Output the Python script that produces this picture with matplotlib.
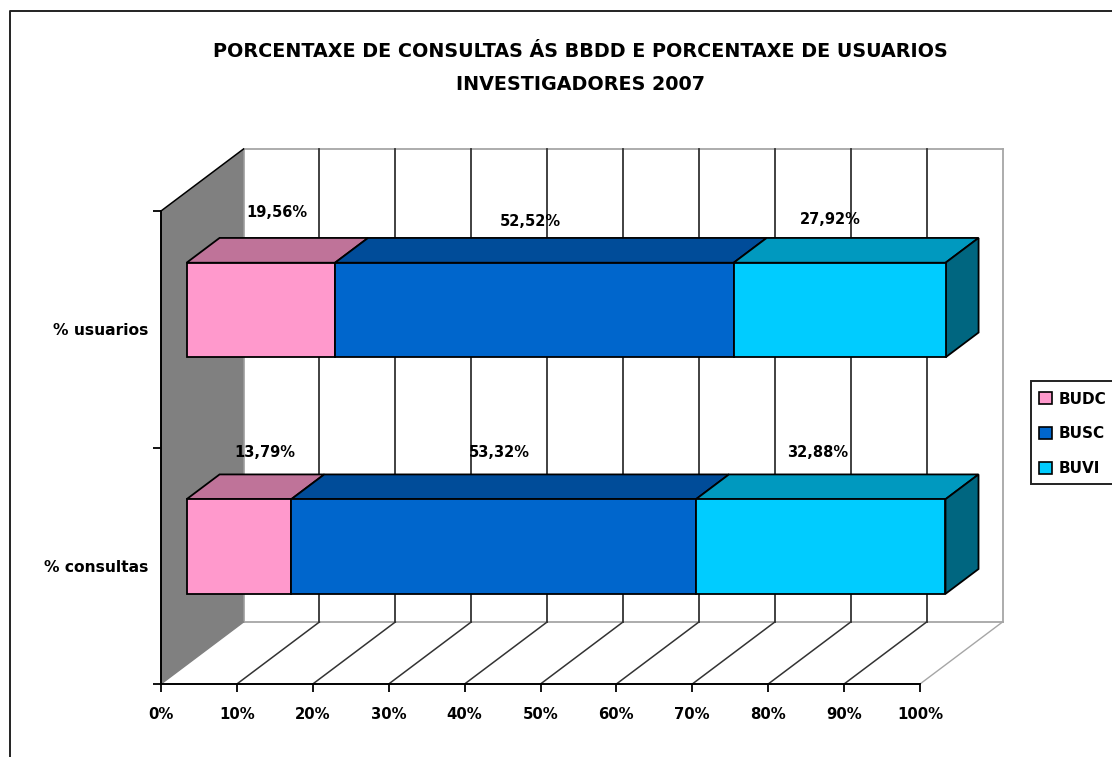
import matplotlib
matplotlib.use("Agg")
import matplotlib.pyplot as plt
from matplotlib.lines import Line2D
from matplotlib.patches import Polygon, Rectangle, Patch

title = "PORCENTAXE DE CONSULTAS ÁS BBDD E PORCENTAXE DE USUARIOS\nINVESTIGADORES 2007"
categories = ["% consultas", "% usuarios"]
series_names = ["BUDC", "BUSC", "BUVI"]
budc = [13.79, 19.56]
busc = [53.32, 52.52]
buvi = [32.88, 27.92]
xticks = [0, 10, 20, 30, 40, 50, 60, 70, 80, 90, 100]

front_colors = ["#FF99CC", "#0066CC", "#00CCFF"]
top_colors = ["#BF7399", "#004C99", "#0099BF"]
side_color = "#006680"
label_nudges = [[(26, 0), (6, 0), (-3, 0)], [(16, 0), (-4, 0), (-9, 0)]]
label_heights = [[212, 212, 212], [216, 207, 209]]

W, H = 1112, 757
fig = plt.figure(figsize=(W / 100, H / 100), dpi=100, facecolor="white")
plt.rcParams["font.family"] = "DejaVu Sans"
L, R, T, B = 161.0, 920.0, 211, 684
ax = fig.add_axes([L / W, 1 - B / H, (R - L) / W, (B - T) / H])
ax.set_xlim(0, 100)
ax.set_ylim(0, 2)
ax.patch.set_visible(False)
DX = 82.5 / ((R - L) / 100)
DY = 62 / ((B - T) / 2)


def P(x, y, d=0.0):
    return (x + DX * d, y + DY * d)


def poly(pts, fc, ec="black", lw=1.3, z=3):
    ax.add_patch(Polygon(pts, closed=True, facecolor=fc, edgecolor=ec, linewidth=lw,
                         joinstyle="miter", clip_on=False, zorder=z))


def line(a, b, c, lw=1.3, z=2):
    ax.add_line(Line2D([a[0], b[0]], [a[1], b[1]], color=c, linewidth=lw,
                       clip_on=False, zorder=z))


GREY = "#A6A6A6"
DARK = "#333333"
poly([P(0, 0), P(0, 0, 1), P(0, 2, 1), P(0, 2)], "#808080", ec="none", lw=0, z=2.5)
line(P(0, 2, 1), P(100, 2, 1), GREY)
line(P(100, 2, 1), P(100, 0, 1), GREY)
line(P(0, 0, 1), P(100, 0, 1), GREY)
line(P(100, 0), P(100, 0, 1), GREY, lw=1.0)
line(P(0, 0, 1), P(0, 2, 1), GREY)
for v in xticks[1:-1]:
    line(P(v, 0), P(v, 0, 1), DARK, lw=1.1)
    line(P(v, 0, 1), P(v, 2, 1), DARK)
line(P(0, 0), P(0, 0, 1), "#808080", lw=1.0, z=2.6)
line(P(0, 2), P(0, 2, 1), "black", lw=1.1, z=2.6)

BAR_H = 0.4
D0, D1 = 0.31, 0.71
rows = [budc, busc, buvi]
for row in (1, 0):
    yc = row + 0.5
    y0, y1 = yc - BAR_H / 2, yc + BAR_H / 2
    left = 0.0
    for s in range(3):
        v = rows[s][row]
        right = left + v
        poly([P(left, y1, D0), P(right, y1, D0), P(right, y1, D1), P(left, y1, D1)], top_colors[s])
        poly([P(left, y0, D0), P(right, y0, D0), P(right, y1, D0), P(left, y1, D0)], front_colors[s], z=3.2)
        if s == 2:
            poly([P(right, y0, D0), P(right, y0, D1), P(right, y1, D1), P(right, y1, D0)], side_color)
        mx, my = P(left + v / 2, row, D0)
        ax.annotate(f"{v:.2f}%".replace(".", ","),
                    xy=(mx, my), xycoords="data",
                    xytext=(label_nudges[row][s][0] * 0.72, label_heights[row][s] * 0.72),
                    textcoords="offset points", ha="center", va="center",
                    fontsize=10.5, fontweight="bold", color="black", zorder=5,
                    annotation_clip=False)
        left = right

for s in ("top", "right"):
    ax.spines[s].set_visible(False)
for s in ("left", "bottom"):
    ax.spines[s].set_linewidth(1.4)
    ax.spines[s].set_zorder(4)
ax.set_xticks(xticks)
ax.set_xticklabels([f"{v}%" for v in xticks], fontsize=10.7, fontweight="bold")
ax.tick_params(axis="x", length=6, width=1.3, pad=10.9)
ax.set_yticks([0, 1, 2])
ax.set_yticklabels([])
ax.set_yticks([0.5, 1.5], minor=True)
ax.set_yticklabels(categories, minor=True, fontsize=11.2, fontweight="bold")
ax.tick_params(axis="y", which="major", length=6, width=1.3)
ax.tick_params(axis="y", which="minor", length=0, pad=8.8)

fig.text(580 / W, 1 - 68 / H, title, ha="center", va="center", fontsize=13.75,
         fontweight="bold", linespacing=1.93)

fig.add_artist(Line2D([10 / W, 10 / W, 1], [0, 1 - 11 / H, 1 - 11 / H],
                      color="#222222", linewidth=1.4, transform=fig.transFigure))

fig.add_artist(Rectangle((1031 / W, 1 - 484 / H), 100 / W, 103 / H, facecolor="white",
                         edgecolor="#222222", linewidth=1.4, transform=fig.transFigure, clip_on=False))
handles = [Patch(facecolor=c, edgecolor="black", linewidth=1.2) for c in front_colors]
leg = fig.legend(handles, series_names, loc="center left",
                 bbox_to_anchor=(1032.5 / W, 1 - 434 / H), frameon=False,
                 prop={"size": 11, "weight": "bold"}, handlelength=0.85, handleheight=0.85,
                 handletextpad=0.45, labelspacing=1.3, borderpad=0.4, borderaxespad=0)
leg.set_zorder(10)

fig.savefig("out.png", dpi=100, facecolor="white")
